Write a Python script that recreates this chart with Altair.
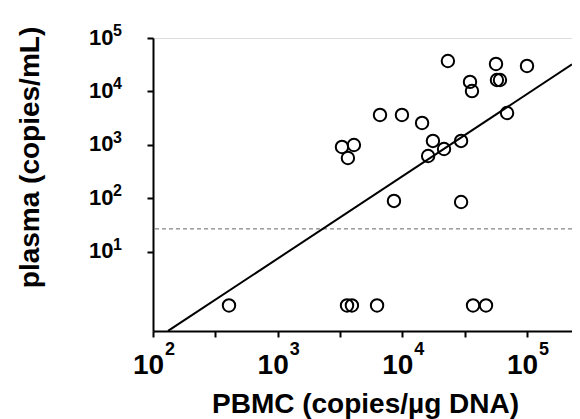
import math
import altair as alt
import pandas as pd

# ---- data ----
pbmc = [23200, 56400, 100000, 34900, 36200, 57400, 60700, 69200, 6620, 9930,
        14400, 3280, 4090, 3660, 17600, 21600, 16100, 29600, 8570, 29600,
        407, 3600, 3940, 6270, 36900, 46900]
plasma = [37200, 32700, 30000, 15100, 10200, 16400, 16400, 3960, 3640, 3640,
          2580, 918, 1000, 571, 1190, 841, 622, 1190, 90, 86,
          1, 1, 1, 1, 1, 1]

# regression in log10 space: log10(plasma) = slope*log10(pbmc) + intercept
fit_slope = 1.538
fit_intercept = -3.738
fit_x = [132, 229600]

threshold = [27]

x_ticks = [100, 316.23, 1000, 3162.3, 10000, 31623, 100000]
x_decades = [100, 1000, 10000, 100000]
x_exponents = ["2", "3", "4", "5"]
y_ticks = [10, 100, 1000, 10000, 100000]
y_exponents = ["1", "2", "3", "4", "5"]

x_domain = [100, 229600]
y_domain = [0.333, 100000]

FONT = "Liberation Sans"


def base_label_expr(values):
    cond = " || ".join(f"datum.value == {v}" for v in values)
    return f"({cond}) ? '10' : ''"


pts = pd.DataFrame({"pbmc": pbmc, "plasma": plasma})
fit = pd.DataFrame({"pbmc": fit_x,
                    "plasma": [10 ** (fit_slope * math.log10(v) + fit_intercept) for v in fit_x]})
thr = pd.DataFrame({"plasma": threshold})
xexp = pd.DataFrame({"pbmc": x_decades, "exp": x_exponents})
yexp = pd.DataFrame({"plasma": y_ticks, "exp": y_exponents})

xscale = alt.Scale(type="log", domain=x_domain, nice=False)
yscale = alt.Scale(type="log", domain=y_domain, nice=False)

xaxis = alt.Axis(
    title="PBMC (copies/µg DNA)",
    values=x_ticks,
    labelExpr=base_label_expr(x_decades),
    labelFont=FONT, labelFontSize=28, labelFontWeight="bold", labelColor="black",
    labelBaseline="alphabetic", labelPadding=36, labelOffset=-5,
    labelFlush=False, labelOverlap=False,
    titleFont=FONT, titleFontSize=28, titleFontWeight="bold", titleColor="black",
    titleBaseline="alphabetic", titleX=212, titleY=81, titleAlign="center",
    domainColor="black", domainWidth=2, tickColor="black", tickWidth=2, tickSize=6,
    grid=False,
)
yaxis = alt.Axis(
    title="plasma (copies/mL)",
    values=y_ticks,
    labelExpr="'10'",
    labelFont=FONT, labelFontSize=22, labelFontWeight="bold", labelColor="black",
    labelBaseline="alphabetic", labelOffset=6,
    labelPadding=34, labelFlush=False, labelOverlap=False,
    titleFont=FONT, titleFontSize=28, titleFontWeight="bold", titleColor="black",
    titleBaseline="alphabetic", titleAngle=270, titleX=-115, titleY=119, titleAlign="center",
    domainColor="black", domainWidth=2, tickColor="black", tickWidth=2, tickSize=6,
    grid=False,
)

points = alt.Chart(pts).mark_point(
    shape="circle", filled=False, stroke="black", strokeWidth=2, size=154, opacity=1
).encode(
    x=alt.X("pbmc:Q", scale=xscale, axis=xaxis),
    y=alt.Y("plasma:Q", scale=yscale, axis=yaxis),
)

line = alt.Chart(fit).mark_line(color="black", strokeWidth=2, clip=True).encode(
    x=alt.X("pbmc:Q", scale=xscale),
    y=alt.Y("plasma:Q", scale=yscale),
)

rule = alt.Chart(thr).mark_rule(color="#666666", strokeWidth=1, strokeDash=[4, 3]).encode(
    y=alt.Y("plasma:Q", scale=yscale),
)

# superscript exponents of the tick labels
x_sup = alt.Chart(xexp).mark_text(
    font=FONT, fontSize=18, fontWeight="bold", color="black",
    align="left", baseline="alphabetic", dx=12,
).encode(
    x=alt.X("pbmc:Q", scale=xscale),
    y=alt.value(317),
    text="exp:N",
)

y_sup = alt.Chart(yexp).mark_text(
    font=FONT, fontSize=16, fontWeight="bold", color="black",
    align="left", baseline="alphabetic", dy=-2,
).encode(
    x=alt.value(-40),
    y=alt.Y("plasma:Q", scale=yscale),
    text="exp:N",
)

chart = alt.layer(rule, line, points, x_sup, y_sup).properties(
    width=419, height=293,
    autosize=alt.AutoSizeParams(type="none"),
    padding={"left": 145, "top": 30, "right": 0, "bottom": 88},
).configure_view(stroke=None).configure(background="white")

chart.save("out.html", embed_options={"renderer": "svg", "actions": False})
